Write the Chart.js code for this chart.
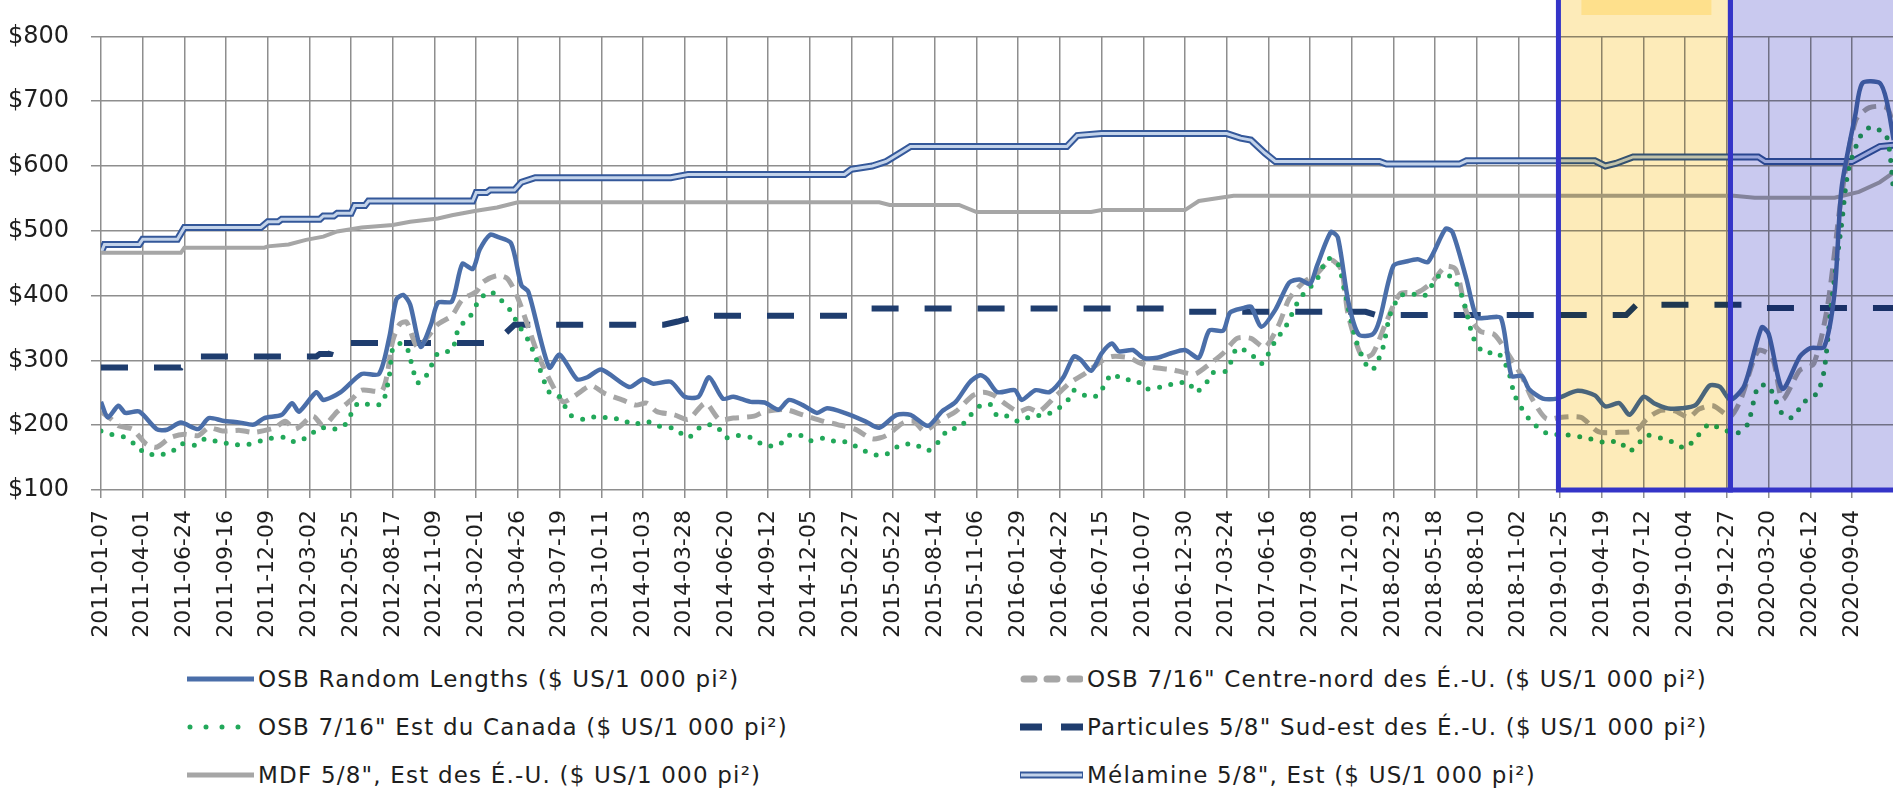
<!DOCTYPE html>
<html lang="fr">
<head>
<meta charset="utf-8">
<title>Prix des panneaux</title>
<script src="https://cdn.jsdelivr.net/npm/chart.js@4.4.1/dist/chart.umd.min.js"></script>
<style>
    html, body { margin: 0; padding: 0; background: #fff; }
    #wrap { position: relative; width: 1893px; height: 789px; overflow: hidden; }
    #chart { position: absolute; left: 0; top: 0; }
    .legend-item {
        position: absolute;
        display: flex;
        align-items: center;
        font-family: "DejaVu Sans", sans-serif;
        font-size: 23px;
        letter-spacing: 1.2px;
        color: #1e1e1e;
        white-space: nowrap;
        height: 30px;
    }
    .legend-item svg { display: block; margin-right: 4px; }
</style>
</head>
<body>
<div id="wrap">
    <canvas id="chart" width="1893" height="650"></canvas>
    <div id="legend"></div>
</div>
<script>
// semaines depuis 2011-01-07 (une étiquette toutes les 12 semaines)
const tickLabels = [
    '2011-01-07', '2011-04-01', '2011-06-24', '2011-09-16', '2011-12-09',
    '2012-03-02', '2012-05-25', '2012-08-17', '2012-11-09', '2013-02-01',
    '2013-04-26', '2013-07-19', '2013-10-11', '2014-01-03', '2014-03-28',
    '2014-06-20', '2014-09-12', '2014-12-05', '2015-02-27', '2015-05-22',
    '2015-08-14', '2015-11-06', '2016-01-29', '2016-04-22', '2016-07-15',
    '2016-10-07', '2016-12-30', '2017-03-24', '2017-06-16', '2017-09-08',
    '2017-12-01', '2018-02-23', '2018-05-18', '2018-08-10', '2018-11-02',
    '2019-01-25', '2019-04-19', '2019-07-12', '2019-10-04', '2019-12-27',
    '2020-03-20', '2020-06-12', '2020-09-04'
];
const weeksPerTick = 12;
const lastWeek = 515.8;

// [semaine, $ US / 1 000 pi²]
const osbRandomLengths = [
    [0,236],[2,212],[5,230],[7,219],[11,221],[16,194],[19,193],[23,204],[28,194],[31,211],
    [35,207],[40,204],[44,201],[47,211],[52,216],[55,234],[57,221],[62,251],[64,239],[69,251],
    [75,279],[80,279],[83,336],[85,394],[87,401],[89,386],[92,321],[95,356],[97,389],[101,391],
    [104,449],[107,441],[109,471],[112,494],[114,491],[118,481],[121,416],[123,406],[129,289],[132,309],
    [137,271],[140,274],[144,286],[152,259],[156,271],[159,264],[164,267],[168,244],[172,244],[175,274],
    [179,241],[182,244],[187,236],[191,235],[195,224],[198,239],[202,231],[206,219],[209,226],[214,219],
    [220,206],[224,196],[229,216],[233,216],[238,199],[242,221],[246,236],[250,266],[253,277],[255,271],
    [258,251],[263,254],[265,239],[269,254],[273,251],[277,274],[280,306],[282,301],[285,284],[288,311],
    [291,326],[293,314],[297,316],[300,304],[304,304],[308,311],[312,316],[316,304],[319,346],[323,346],
    [325,374],[329,381],[331,383],[334,352],[338,378],[342,420],[345,425],[348,418],[350,446],[354,498],
    [356,490],[359,391],[362,340],[366,340],[368,362],[372,446],[376,453],[379,456],[382,452],[387,503],
    [389,498],[393,426],[396,366],[399,366],[403,365],[406,276],[409,276],[411,256],[415,241],[419,241],
    [425,253],[430,246],[433,229],[437,234],[440,216],[444,244],[447,234],[451,226],[455,226],[459,231],
    [463,261],[466,259],[469,239],[473,261],[478,351],[480,341],[484,256],[489,306],[492,319],[496,321],
    [499,406],[501,566],[505,680],[507,728],[512,728],[514,700],[516,640]
];
const osbCentreNord = [
    [0,221],[3,209],[5,199],[9,194],[13,171],[16,166],[20,181],[24,186],[28,184],[31,196],
    [35,191],[40,192],[44,189],[50,196],[53,206],[56,194],[61,214],[64,199],[68,221],[72,239],
    [75,254],[81,254],[84,331],[86,356],[88,359],[91,321],[94,336],[97,356],[101,369],[104,394],
    [108,406],[110,421],[114,431],[117,426],[120,396],[123,351],[126,306],[130,261],[133,236],[136,244],
    [141,261],[145,249],[150,239],[154,231],[157,234],[160,221],[165,216],[169,209],[174,234],[178,209],
    [182,211],[188,214],[191,221],[197,224],[202,216],[208,206],[212,201],[217,194],[222,179],[226,184],
    [231,204],[234,206],[237,191],[241,206],[246,221],[251,246],[254,251],[257,246],[260,234],[264,221],
    [267,226],[270,221],[275,246],[279,266],[283,279],[288,299],[291,306],[296,304],[299,296],[303,289],
    [308,286],[312,281],[315,279],[319,294],[323,311],[327,334],[331,334],[335,320],[339,355],[342,395],
    [346,420],[350,434],[354,455],[357,440],[359,370],[363,305],[366,310],[370,360],[374,403],[379,405],
    [383,420],[387,445],[390,440],[393,375],[397,345],[401,340],[405,310],[409,275],[412,240],[416,210],
    [420,212],[426,212],[431,190],[437,189],[442,192],[445,210],[449,223],[453,222],[457,212],[460,225],
    [464,230],[469,214],[472,240],[477,315],[481,305],[484,240],[489,285],[493,295],[497,385],[501,555],
    [505,670],[509,690],[514,690],[516,660]
];
const osbEstCanada = [
    [0,191],[3,186],[7,181],[10,169],[13,156],[17,155],[20,157],[23,171],[27,169],[30,179],
    [34,174],[39,170],[42,170],[46,176],[50,181],[53,181],[56,174],[60,184],[63,196],[67,194],
    [70,199],[74,234],[78,231],[81,234],[83,277],[84,319],[86,326],[88,321],[91,266],[93,271],
    [95,291],[97,311],[101,316],[103,351],[106,366],[109,394],[112,406],[115,394],[118,376],[120,356],
    [123,331],[125,306],[129,251],[132,244],[135,216],[139,209],[143,214],[146,211],[150,209],[153,201],
    [157,206],[160,199],[165,195],[169,181],[173,199],[177,199],[180,181],[183,184],[187,181],[191,169],
    [195,169],[198,184],[201,185],[204,176],[208,180],[212,174],[215,174],[219,162],[223,154],[226,155],
    [230,169],[234,171],[238,161],[241,174],[244,194],[247,196],[250,214],[253,230],[256,232],[258,214],
    [261,214],[264,206],[268,214],[272,216],[275,224],[278,236],[280,254],[284,244],[287,246],[289,264],
    [291,279],[294,271],[298,269],[301,256],[305,259],[309,264],[313,266],[315,251],[318,264],[320,281],
    [324,284],[327,319],[331,310],[334,295],[338,330],[341,352],[345,395],[350,425],[353,457],[356,450],
    [358,405],[361,335],[364,295],[366,285],[369,320],[371,370],[374,400],[378,402],[381,400],[385,430],
    [389,428],[392,395],[395,335],[398,312],[402,312],[405,285],[407,245],[411,210],[416,188],[422,185],
    [428,180],[433,173],[437,175],[440,160],[445,184],[449,180],[452,175],[456,165],[459,180],[463,202],
    [466,195],[471,188],[474,202],[477,260],[480,260],[484,217],[487,212],[490,235],[494,250],[496,285],
    [498,385],[501,510],[503,595],[507,652],[510,660],[514,645],[516,560]
];
const particulesSudEst = [
    [0,289],[23,289],[25,306],[62,306],[63,310],[66,310],[67,327],[113,327],[116,340],[119,355],
    [162,355],[166,360],[172,369],[215,369],[220,380],[306,380],[310,375],[364,375],[367,370],[439,370],
    [442,386],[476,386],[479,381],[516,381]
];
const mdfEst = [
    [0,466],[23,466],[24,474],[47,474],[48,476],[54,479],[59,486],[64,491],[68,499],[75,505],
    [84,509],[89,514],[97,519],[101,524],[108,531],[114,536],[120,544],[224,544],[227,540],[247,540],
    [252,529],[285,529],[288,532],[312,532],[316,546],[326,554],[470,554],[476,551],[499,551],[506,560],
    [512,575],[516,590]
];
const melamineEst = [
    [0,466],[1,479],[11,479],[12,487],[22,487],[24,505],[46,505],[48,514],[51,514],[52,518],
    [63,518],[64,523],[67,523],[68,527],[72,527],[73,539],[76,539],[77,546],[107,546],[108,559],
    [111,559],[112,563],[119,563],[121,575],[125,582],[164,582],[169,587],[214,587],[216,595],[222,600],
    [226,607],[230,620],[233,630],[278,630],[281,647],[288,650],[324,650],[328,643],[331,640],[335,620],
    [338,607],[368,607],[370,603],[391,603],[393,608],[430,608],[433,600],[436,604],[441,614],[477,614],
    [479,607],[504,607],[512,630],[516,632]
];

// périodes encadrées (en semaines)
const shadedPeriods = [
    { from: 419.5, to: 469, fill: '#fdebb9' },
    { from: 469, to: lastWeek + 5, fill: '#c9c9ef' }
];

const seriesNames = [
    'OSB Random Lengths ($ US/1 000 pi²)',
    'OSB 7/16" Centre-nord des É.-U. ($ US/1 000 pi²)',
    'OSB 7/16" Est du Canada ($ US/1 000 pi²)',
    'Particules 5/8" Sud-est des É.-U. ($ US/1 000 pi²)',
    'MDF 5/8", Est des É.-U. ($ US/1 000 pi²)',
    'Mélamine 5/8", Est ($ US/1 000 pi²)'
];

const FONT = '"DejaVu Sans", sans-serif';
const GRID = '#8e8e8e';
const TEXT = '#1e1e1e';

function toPoints(pairs) {
    return pairs.map(p => ({ x: p[0], y: p[1] }));
}

const shadePlugin = {
    id: 'shade',
    afterDraw(chart) {
        const ctx = chart.ctx;
        const x = chart.scales.x;
        const area = chart.chartArea;
        const bounds = shadedPeriods.map(p => ({
            left: x.getPixelForValue(p.from),
            right: Math.min(x.getPixelForValue(p.to), chart.width + 10),
            fill: p.fill
        }));
        ctx.save();
        ctx.globalCompositeOperation = 'multiply';
        bounds.forEach(b => {
            ctx.fillStyle = b.fill;
            ctx.fillRect(b.left, 0, b.right - b.left, area.bottom);
        });
        ctx.restore();

        ctx.save();
        // petite étiquette en haut de la zone jaune
        ctx.fillStyle = '#fee08c';
        ctx.fillRect(bounds[0].left + 23, 0, 130, 15);
        ctx.strokeStyle = '#3434c8';
        ctx.lineWidth = 5;
        bounds.forEach(b => {
            ctx.strokeRect(b.left, -20, b.right - b.left, area.bottom + 20);
        });
        ctx.restore();
    }
};

new Chart(document.getElementById('chart'), {
    type: 'line',
    data: {
        datasets: [
            {
                label: seriesNames[0],
                data: toPoints(osbRandomLengths),
                borderColor: '#4a6ea9',
                borderWidth: 4.5,
                tension: 0.25,
                order: 0
            },
            {
                label: seriesNames[2],
                data: toPoints(osbEstCanada),
                borderColor: '#22a85a',
                borderWidth: 5,
                borderDash: [0, 11.5],
                borderCapStyle: 'round',
                tension: 0.25,
                order: 1
            },
            {
                label: seriesNames[1],
                data: toPoints(osbCentreNord),
                borderColor: '#a6a6a6',
                borderWidth: 5,
                borderDash: [14, 8],
                tension: 0.25,
                order: 2
            },
            {
                label: seriesNames[3],
                data: toPoints(particulesSudEst),
                borderColor: '#1f3d6e',
                borderWidth: 6,
                borderDash: [27, 26],
                tension: 0,
                order: 3
            },
            {
                label: seriesNames[4],
                data: toPoints(mdfEst),
                borderColor: '#a6a6a6',
                borderWidth: 4,
                tension: 0,
                order: 4
            },
            {
                label: seriesNames[5],
                data: toPoints(melamineEst),
                borderColor: '#c3d3ea',
                borderWidth: 3,
                tension: 0,
                order: 5
            },
            {
                label: seriesNames[5] + ' (contour)',
                data: toPoints(melamineEst),
                borderColor: '#34589a',
                borderWidth: 7,
                tension: 0,
                order: 6
            }
        ]
    },
    options: {
        responsive: false,
        animation: false,
        elements: { point: { radius: 0 } },
        layout: { padding: { top: 23, right: 0, bottom: 0, left: 0 } },
        plugins: {
            legend: { display: false },
            tooltip: { enabled: false }
        },
        scales: {
            x: {
                type: 'linear',
                min: 0,
                max: lastWeek,
                afterBuildTicks: scale => {
                    scale.ticks = tickLabels.map((_, i) => ({ value: i * weeksPerTick }));
                },
                afterFit: scale => { scale.height = 160; },
                grid: { color: GRID, lineWidth: 1.5, tickLength: 8, tickColor: GRID },
                border: { display: false },
                ticks: {
                    autoSkip: false,
                    minRotation: 90,
                    maxRotation: 90,
                    padding: 12,
                    color: TEXT,
                    font: { family: FONT, size: 22 },
                    callback: (value, index) => tickLabels[index]
                }
            },
            y: {
                min: 100,
                max: 800,
                afterFit: scale => { scale.width = 101; },
                grid: { color: GRID, lineWidth: 1.5, tickLength: 10, tickColor: GRID },
                border: { display: false },
                ticks: {
                    stepSize: 100,
                    padding: 22,
                    color: TEXT,
                    font: { family: FONT, size: 24 },
                    callback: value => '$' + value
                }
            }
        }
    },
    plugins: [shadePlugin]
});

// légende en deux colonnes
const legendItems = [
    { name: seriesNames[0], left: 187, top: 664, w: 67, svg: '<line x1="0" y1="7" x2="67" y2="7" stroke="#4a6ea9" stroke-width="5"/>' },
    { name: seriesNames[1], left: 1020, top: 664, w: 63, svg: '<line x1="4" y1="7" x2="60" y2="7" stroke="#a6a6a6" stroke-width="7" stroke-linecap="round" stroke-dasharray="10 13"/>' },
    { name: seriesNames[2], left: 187, top: 712, w: 67, svg: '<line x1="3" y1="7" x2="66" y2="7" stroke="#22a85a" stroke-width="5" stroke-linecap="round" stroke-dasharray="0 16"/>' },
    { name: seriesNames[3], left: 1020, top: 712, w: 63, svg: '<line x1="0" y1="7" x2="63" y2="7" stroke="#1f3d6e" stroke-width="7" stroke-dasharray="22 19"/>' },
    { name: seriesNames[4], left: 187, top: 760, w: 67, svg: '<line x1="0" y1="7" x2="67" y2="7" stroke="#a6a6a6" stroke-width="5"/>' },
    { name: seriesNames[5], left: 1020, top: 760, w: 63, svg: '<line x1="0" y1="7" x2="63" y2="7" stroke="#34589a" stroke-width="7"/><line x1="1" y1="7" x2="62" y2="7" stroke="#c3d3ea" stroke-width="3"/>' }
];

document.getElementById('legend').innerHTML = legendItems.map(item => `
    <div class="legend-item" style="left:${item.left}px; top:${item.top}px;">
        <svg width="${item.w}" height="14">${item.svg}</svg>
        <span>${item.name}</span>
    </div>
`).join('');
</script>
</body>
</html>
